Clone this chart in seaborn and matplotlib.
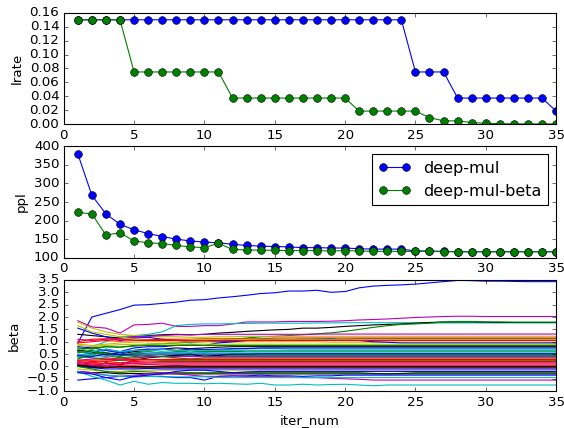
import pandas as pd
import matplotlib
matplotlib.use("Agg")
import matplotlib.pyplot as plt
import seaborn as sns

iter_num = list(range(1, 36))

lrate_deep_mul = [0.15, 0.15, 0.15, 0.15, 0.15, 0.15, 0.15, 0.15, 0.15, 0.15,
                  0.15, 0.15, 0.15, 0.15, 0.15, 0.15, 0.15, 0.15, 0.15, 0.15,
                  0.15, 0.15, 0.15, 0.15, 0.075, 0.075, 0.075, 0.0375, 0.0375, 0.0375,
                  0.0375, 0.0375, 0.0375, 0.0375, 0.01875]
lrate_deep_mul_beta = [0.15, 0.15, 0.15, 0.15, 0.075, 0.075, 0.075, 0.075, 0.075, 0.075,
                       0.075, 0.0375, 0.0375, 0.0375, 0.0375, 0.0375, 0.0375, 0.0375, 0.0375, 0.0375,
                       0.01875, 0.01875, 0.01875, 0.01875, 0.01875, 0.0094, 0.0047, 0.0047, 0.0023, 0.0012,
                       0.0006, 0.0003, 0.0003, 0.0003, 0.0003]

ppl_deep_mul = [380, 268, 218, 190, 175, 165, 157, 150, 145, 142,
                140, 136, 133, 131, 130, 129, 127, 127, 126, 126,
                124, 123, 123, 123, 118, 118, 117, 116, 116, 116,
                116, 116, 116, 116, 116]
ppl_deep_mul_beta = [222, 218, 161, 167, 145, 140, 138, 133, 129, 127,
                     139, 122, 121, 120, 120, 119, 119, 119, 118, 119,
                     118, 117, 117, 117, 117, 117, 116, 116, 116, 116,
                     116, 116, 116, 116, 116]

# beta trajectories, one list per learned weight
beta_runs = [
    [0.95, 2.00, 2.15, 2.30, 2.48, 2.50, 2.55, 2.60, 2.68, 2.70, 2.77, 2.82, 2.88, 2.95, 2.98, 3.05, 3.05, 3.08,
     3.00, 3.03, 3.18, 3.25, 3.28, 3.30, 3.33, 3.38, 3.43, 3.48, 3.47, 3.45, 3.45, 3.44, 3.43, 3.43, 3.43],
    [1.85, 1.60, 1.55, 1.35, 1.68, 1.70, 1.75, 1.62, 1.62, 1.65, 1.65, 1.72, 1.80, 1.80, 1.80, 1.82, 1.82, 1.82,
     1.83, 1.85, 1.88, 1.90, 1.92, 1.95, 1.98, 2.00, 2.02, 2.03, 2.03, 2.02, 2.02, 2.02, 2.02, 2.02, 2.02],
    [0.60, 0.80, 1.00, 1.20, 1.25, 1.30, 1.40, 1.65, 1.70, 1.72, 1.72, 1.73, 1.74, 1.75, 1.75, 1.75, 1.75, 1.76,
     1.76, 1.77, 1.77, 1.77, 1.77, 1.77, 1.77, 1.76, 1.76, 1.76, 1.76, 1.76, 1.76, 1.76, 1.76, 1.76, 1.76],
    [1.30, 1.25, 1.20, 1.15, 1.20, 1.25, 1.28, 1.30, 1.28, 1.30, 1.35, 1.38, 1.42, 1.45, 1.48, 1.50, 1.55, 1.55,
     1.58, 1.62, 1.65, 1.68, 1.70, 1.72, 1.75, 1.78, 1.80, 1.80, 1.80, 1.79, 1.78, 1.78, 1.78, 1.78, 1.78],
    [0.70, 0.75, 0.80, 0.78, 0.85, 0.90, 0.92, 0.95, 0.98, 1.00, 1.05, 1.10, 1.15, 1.20, 1.22, 1.25, 1.28, 1.32,
     1.36, 1.42, 1.50, 1.58, 1.65, 1.70, 1.72, 1.75, 1.80, 1.82, 1.82, 1.80, 1.80, 1.79, 1.79, 1.79, 1.79],
    [1.80, 1.55, 1.40, 1.30, 1.25, 1.22, 1.20, 1.20, 1.18, 1.18, 1.20, 1.20, 1.22, 1.22, 1.22, 1.22, 1.22, 1.22,
     1.22, 1.22, 1.22, 1.22, 1.22, 1.22, 1.22, 1.22, 1.22, 1.22, 1.22, 1.22, 1.22, 1.22, 1.22, 1.22, 1.22],
    [1.55, 1.35, 1.20, 1.05, 1.15, 1.18, 1.10, 1.05, 1.00, 1.02, 1.00, 1.02, 1.05, 1.05, 1.08, 1.08, 1.10, 1.10,
     1.08, 1.10, 1.12, 1.12, 1.12, 1.12, 1.12, 1.12, 1.12, 1.12, 1.12, 1.12, 1.12, 1.12, 1.12, 1.12, 1.12],
    [1.10, 1.05, 1.10, 1.15, 1.20, 1.22, 1.25, 1.28, 1.28, 1.30, 1.30, 1.30, 1.30, 1.30, 1.30, 1.30, 1.30, 1.31,
     1.31, 1.31, 1.31, 1.31, 1.31, 1.31, 1.31, 1.31, 1.31, 1.31, 1.31, 1.31, 1.31, 1.31, 1.31, 1.31, 1.31],
    [1.00, 1.10, 1.12, 1.10, 1.10, 1.08, 1.10, 1.10, 1.10, 1.12, 1.12, 1.12, 1.12, 1.12, 1.15, 1.15, 1.15, 1.15,
     1.15, 1.15, 1.15, 1.15, 1.15, 1.15, 1.15, 1.15, 1.15, 1.15, 1.15, 1.15, 1.15, 1.15, 1.15, 1.15, 1.15],
    [0.90, 0.85, 0.90, 0.95, 0.98, 1.00, 1.00, 0.98, 1.00, 1.00, 0.98, 0.98, 1.00, 1.00, 1.00, 1.00, 1.00, 1.00,
     0.98, 0.98, 0.98, 0.98, 0.98, 0.98, 0.98, 0.98, 0.98, 0.98, 0.98, 0.98, 0.98, 0.98, 0.98, 0.98, 0.98],
    [0.45, 0.55, 0.70, 0.60, 0.75, 0.80, 0.80, 0.85, 0.90, 0.85, 0.95, 1.00, 1.05, 1.10, 1.10, 1.05, 1.08, 1.10,
     1.12, 1.08, 1.05, 1.00, 0.98, 0.95, 0.95, 0.95, 0.95, 0.95, 0.95, 0.95, 0.95, 0.95, 0.95, 0.95, 0.95],
    [0.65, 0.60, 0.55, 0.50, 0.60, 0.65, 0.70, 0.75, 0.72, 0.75, 0.78, 0.80, 0.80, 0.80, 0.80, 0.80, 0.80, 0.80,
     0.80, 0.80, 0.80, 0.80, 0.80, 0.80, 0.80, 0.80, 0.80, 0.80, 0.80, 0.80, 0.80, 0.80, 0.80, 0.80, 0.80],
    [0.35, 0.45, 0.65, 0.55, 0.65, 0.70, 0.60, 0.55, 0.65, 0.55, 0.65, 0.70, 0.72, 0.72, 0.72, 0.70, 0.70, 0.70,
     0.70, 0.70, 0.70, 0.70, 0.70, 0.70, 0.70, 0.70, 0.70, 0.70, 0.70, 0.70, 0.70, 0.70, 0.70, 0.70, 0.70],
    [0.80, 0.75, 0.65, 0.55, 0.65, 0.70, 0.70, 0.65, 0.70, 0.68, 0.70, 0.72, 0.72, 0.75, 0.75, 0.75, 0.75, 0.75,
     0.75, 0.75, 0.75, 0.75, 0.75, 0.75, 0.75, 0.75, 0.75, 0.75, 0.75, 0.75, 0.75, 0.75, 0.75, 0.75, 0.75],
    [0.55, 0.65, 0.50, 0.40, 0.55, 0.60, 0.55, 0.60, 0.58, 0.60, 0.60, 0.60, 0.62, 0.62, 0.62, 0.62, 0.62, 0.62,
     0.62, 0.62, 0.62, 0.62, 0.62, 0.62, 0.62, 0.62, 0.62, 0.62, 0.62, 0.62, 0.62, 0.62, 0.62, 0.62, 0.62],
    [0.30, 0.50, 0.55, 0.45, 0.45, 0.40, 0.42, 0.45, 0.45, 0.45, 0.45, 0.45, 0.45, 0.45, 0.45, 0.45, 0.45, 0.45,
     0.45, 0.45, 0.45, 0.45, 0.45, 0.45, 0.45, 0.45, 0.45, 0.45, 0.45, 0.45, 0.45, 0.45, 0.45, 0.45, 0.45],
    [0.10, 0.00, 0.15, 0.05, 0.25, 0.35, 0.40, 0.45, 0.50, 0.40, 0.45, 0.50, 0.50, 0.52, 0.52, 0.52, 0.52, 0.52,
     0.52, 0.52, 0.52, 0.52, 0.52, 0.52, 0.52, 0.52, 0.52, 0.52, 0.52, 0.52, 0.52, 0.52, 0.52, 0.52, 0.52],
    [0.50, 0.45, 0.40, 0.50, 0.50, 0.55, 0.55, 0.55, 0.55, 0.55, 0.55, 0.55, 0.55, 0.55, 0.55, 0.55, 0.55, 0.55,
     0.55, 0.55, 0.55, 0.55, 0.55, 0.55, 0.55, 0.55, 0.55, 0.55, 0.55, 0.55, 0.55, 0.55, 0.55, 0.55, 0.55],
    [0.25, 0.30, 0.35, 0.30, 0.35, 0.38, 0.40, 0.40, 0.40, 0.40, 0.40, 0.40, 0.40, 0.40, 0.40, 0.40, 0.40, 0.40,
     0.40, 0.40, 0.40, 0.40, 0.40, 0.40, 0.40, 0.40, 0.40, 0.40, 0.40, 0.40, 0.40, 0.40, 0.40, 0.40, 0.40],
    [0.15, 0.20, 0.22, 0.25, 0.25, 0.28, 0.28, 0.30, 0.30, 0.30, 0.30, 0.30, 0.30, 0.30, 0.30, 0.30, 0.30, 0.30,
     0.30, 0.30, 0.30, 0.30, 0.30, 0.30, 0.30, 0.30, 0.30, 0.30, 0.30, 0.30, 0.30, 0.30, 0.30, 0.30, 0.30],
    [0.40, 0.35, 0.30, 0.25, 0.30, 0.28, 0.25, 0.25, 0.25, 0.25, 0.25, 0.25, 0.25, 0.25, 0.25, 0.25, 0.25, 0.25,
     0.25, 0.25, 0.25, 0.25, 0.25, 0.25, 0.25, 0.25, 0.25, 0.25, 0.25, 0.25, 0.25, 0.25, 0.25, 0.25, 0.25],
    [0.05, 0.10, 0.12, 0.10, 0.15, 0.15, 0.15, 0.15, 0.15, 0.15, 0.15, 0.15, 0.15, 0.15, 0.15, 0.15, 0.15, 0.15,
     0.15, 0.15, 0.15, 0.15, 0.15, 0.15, 0.15, 0.15, 0.15, 0.15, 0.15, 0.15, 0.15, 0.15, 0.15, 0.15, 0.15],
    [0.00, 0.02, 0.05, 0.05, 0.05, 0.08, 0.05, 0.05, 0.05, 0.05, 0.05, 0.05, 0.05, 0.05, 0.05, 0.05, 0.05, 0.05,
     0.05, 0.05, 0.05, 0.05, 0.05, 0.05, 0.05, 0.05, 0.05, 0.05, 0.05, 0.05, 0.05, 0.05, 0.05, 0.05, 0.05],
    [0.00, -0.05, 0.00, -0.05, 0.00, 0.00, 0.00, 0.02, 0.00, 0.00, 0.00, 0.00, 0.00, 0.00, 0.00, 0.00, 0.00, 0.00,
     0.00, 0.00, 0.00, 0.00, 0.00, 0.00, 0.00, 0.00, 0.00, 0.00, 0.00, 0.00, 0.00, 0.00, 0.00, 0.00, 0.00],
    [0.10, 0.05, 0.00, -0.05, -0.05, -0.05, -0.05, -0.05, -0.05, -0.05, -0.05, -0.05, -0.05, -0.05, -0.05, -0.05,
     -0.05, -0.05, -0.05, -0.05, -0.05, -0.05, -0.05, -0.05, -0.05, -0.05, -0.05, -0.05, -0.05, -0.05, -0.05,
     -0.05, -0.05, -0.05, -0.05],
    [-0.10, -0.15, -0.20, -0.20, -0.15, -0.15, -0.15, -0.15, -0.15, -0.15, -0.15, -0.15, -0.15, -0.15, -0.15,
     -0.15, -0.15, -0.15, -0.15, -0.15, -0.15, -0.15, -0.15, -0.15, -0.15, -0.15, -0.15, -0.15, -0.15, -0.15,
     -0.15, -0.15, -0.15, -0.15, -0.15],
    [0.05, -0.05, -0.10, -0.10, -0.10, -0.08, -0.10, -0.10, -0.10, -0.10, -0.10, -0.10, -0.10, -0.10, -0.10,
     -0.10, -0.10, -0.10, -0.10, -0.10, -0.10, -0.10, -0.10, -0.10, -0.10, -0.10, -0.10, -0.10, -0.10, -0.10,
     -0.10, -0.10, -0.10, -0.10, -0.10],
    [0.00, -0.10, -0.20, -0.25, -0.20, -0.22, -0.25, -0.25, -0.25, -0.25, -0.25, -0.25, -0.25, -0.25, -0.25,
     -0.25, -0.25, -0.25, -0.25, -0.25, -0.25, -0.28, -0.30, -0.28, -0.25, -0.25, -0.25, -0.25, -0.25, -0.25,
     -0.25, -0.25, -0.25, -0.25, -0.25],
    [-0.20, -0.25, -0.25, -0.30, -0.28, -0.30, -0.30, -0.30, -0.30, -0.30, -0.30, -0.30, -0.30, -0.30, -0.30,
     -0.30, -0.30, -0.30, -0.30, -0.30, -0.30, -0.30, -0.30, -0.30, -0.30, -0.30, -0.30, -0.30, -0.30, -0.30,
     -0.30, -0.30, -0.30, -0.30, -0.30],
    [-0.55, -0.50, -0.45, -0.40, -0.42, -0.40, -0.40, -0.45, -0.45, -0.55, -0.40, -0.38, -0.38, -0.35, -0.38,
     -0.38, -0.40, -0.38, -0.38, -0.35, -0.35, -0.35, -0.35, -0.35, -0.35, -0.35, -0.35, -0.35, -0.35, -0.35,
     -0.35, -0.35, -0.35, -0.35, -0.35],
    [-0.20, -0.25, -0.35, -0.40, -0.35, -0.30, -0.25, -0.30, -0.35, -0.40, -0.40, -0.38, -0.40, -0.40, -0.40,
     -0.42, -0.45, -0.45, -0.48, -0.50, -0.52, -0.55, -0.55, -0.55, -0.55, -0.55, -0.55, -0.55, -0.55, -0.55,
     -0.55, -0.55, -0.55, -0.55, -0.55],
    [-0.20, -0.40, -0.55, -0.75, -0.60, -0.72, -0.65, -0.68, -0.68, -0.70, -0.68, -0.70, -0.72, -0.68, -0.75,
     -0.75, -0.72, -0.75, -0.73, -0.72, -0.75, -0.78, -0.75, -0.75, -0.75, -0.75, -0.75, -0.75, -0.75, -0.75,
     -0.75, -0.75, -0.75, -0.75, -0.75],
    [-0.25, -0.30, -0.35, -0.40, -0.38, -0.40, -0.42, -0.42, -0.42, -0.42, -0.45, -0.45, -0.45, -0.45, -0.45,
     -0.45, -0.45, -0.45, -0.45, -0.45, -0.45, -0.45, -0.45, -0.45, -0.45, -0.45, -0.45, -0.45, -0.45, -0.45,
     -0.45, -0.45, -0.45, -0.45, -0.45],
    [-0.25, -0.30, -0.45, -0.55, -0.40, -0.35, -0.30, -0.20, -0.15, -0.15, -0.20, -0.25, -0.22, -0.20, -0.20,
     -0.20, -0.20, -0.20, -0.20, -0.20, -0.20, -0.20, -0.20, -0.20, -0.20, -0.20, -0.20, -0.20, -0.20, -0.20,
     -0.20, -0.20, -0.20, -0.20, -0.20],
    [1.65, 1.40, 1.30, 1.20, 1.10, 1.05, 1.05, 1.05, 1.08, 1.10, 1.10, 1.10, 1.10, 1.10, 1.10, 1.10, 1.10, 1.10,
     1.10, 1.10, 1.10, 1.10, 1.10, 1.10, 1.10, 1.10, 1.10, 1.10, 1.10, 1.10, 1.10, 1.10, 1.10, 1.10, 1.10],
    [0.20, 0.15, 0.20, 0.15, 0.20, 0.22, 0.20, 0.20, 0.20, 0.20, 0.20, 0.20, 0.20, 0.20, 0.20, 0.20, 0.20, 0.20,
     0.20, 0.20, 0.20, 0.20, 0.20, 0.20, 0.20, 0.20, 0.20, 0.20, 0.20, 0.20, 0.20, 0.20, 0.20, 0.20, 0.20],
    [0.60, 0.55, 0.45, 0.35, 0.40, 0.45, 0.40, 0.35, 0.30, 0.35, 0.35, 0.35, 0.35, 0.35, 0.35, 0.35, 0.35, 0.35,
     0.35, 0.35, 0.35, 0.35, 0.35, 0.35, 0.35, 0.35, 0.35, 0.35, 0.35, 0.35, 0.35, 0.35, 0.35, 0.35, 0.35],
    [0.85, 0.80, 0.85, 0.88, 0.90, 0.90, 0.92, 0.90, 0.90, 0.90, 0.90, 0.90, 0.90, 0.90, 0.90, 0.90, 0.90, 0.90,
     0.90, 0.90, 0.90, 0.90, 0.90, 0.90, 0.90, 0.90, 0.90, 0.90, 0.90, 0.90, 0.90, 0.90, 0.90, 0.90, 0.90],
    [0.40, 0.60, 0.70, 0.60, 0.65, 0.65, 0.68, 0.65, 0.65, 0.65, 0.65, 0.65, 0.65, 0.65, 0.65, 0.65, 0.65, 0.65,
     0.65, 0.65, 0.65, 0.65, 0.65, 0.65, 0.65, 0.65, 0.65, 0.65, 0.65, 0.65, 0.65, 0.65, 0.65, 0.65, 0.65],
    [0.15, 0.10, 0.05, 0.10, 0.12, 0.10, 0.10, 0.10, 0.10, 0.10, 0.10, 0.10, 0.10, 0.10, 0.10, 0.10, 0.10, 0.10,
     0.10, 0.10, 0.10, 0.10, 0.10, 0.10, 0.10, 0.10, 0.10, 0.10, 0.10, 0.10, 0.10, 0.10, 0.10, 0.10, 0.10],
    [0.05, 0.00, -0.05, 0.00, -0.02, -0.02, -0.02, -0.02, -0.02, -0.02, -0.02, -0.02, -0.02, -0.02, -0.02,
     -0.02, -0.02, -0.02, -0.02, -0.02, -0.02, -0.02, -0.02, -0.02, -0.02, -0.02, -0.02, -0.02, -0.02, -0.02,
     -0.02, -0.02, -0.02, -0.02, -0.02],
    [0.75, 0.70, 0.80, 0.78, 0.82, 0.85, 0.85, 0.85, 0.85, 0.85, 0.85, 0.85, 0.85, 0.85, 0.85, 0.85, 0.85, 0.85,
     0.85, 0.85, 0.85, 0.85, 0.85, 0.85, 0.85, 0.85, 0.85, 0.85, 0.85, 0.85, 0.85, 0.85, 0.85, 0.85, 0.85],
    [0.95, 1.00, 1.05, 1.02, 1.05, 1.05, 1.05, 1.05, 1.05, 1.05, 1.05, 1.05, 1.05, 1.05, 1.05, 1.05, 1.05, 1.05,
     1.05, 1.05, 1.05, 1.05, 1.05, 1.05, 1.05, 1.05, 1.05, 1.05, 1.05, 1.05, 1.05, 1.05, 1.05, 1.05, 1.05],
    [0.45, 0.40, 0.50, 0.48, 0.50, 0.50, 0.50, 0.50, 0.50, 0.50, 0.50, 0.50, 0.50, 0.50, 0.50, 0.50, 0.50, 0.50,
     0.50, 0.50, 0.50, 0.50, 0.50, 0.50, 0.50, 0.50, 0.50, 0.50, 0.50, 0.50, 0.50, 0.50, 0.50, 0.50, 0.50],
    [0.25, 0.25, 0.28, 0.30, 0.28, 0.28, 0.28, 0.28, 0.28, 0.28, 0.28, 0.28, 0.28, 0.28, 0.28, 0.28, 0.28, 0.28,
     0.28, 0.28, 0.28, 0.28, 0.28, 0.28, 0.28, 0.28, 0.28, 0.28, 0.28, 0.28, 0.28, 0.28, 0.28, 0.28, 0.28],
]
beta_colors = ["b", "m", "c", "k", "g", "y", "b", "m", "r", "y",
               "b", "k", "c", "b", "g", "g", "k", "c", "m", "r",
               "g", "r", "r", "k", "r", "y", "b", "g", "k", "b",
               "m", "c", "c", "b", "y", "r", "g", "y", "c", "m",
               "k", "g", "r", "b", "r"]

plt.style.use("classic")
plt.rcParams["figure.facecolor"] = "white"
plt.rcParams["savefig.facecolor"] = "white"

fig, axes = plt.subplots(3, 1, figsize=(7.05, 5.35), dpi=80)
fig.subplots_adjust(left=0.113, right=0.986, top=0.970, bottom=0.086, hspace=0.2)

mk = dict(marker="o", markersize=7, markeredgecolor="k", markeredgewidth=0.5, linewidth=1)

ax = axes[0]
sns.lineplot(x=iter_num, y=lrate_deep_mul, color="b", ax=ax, legend=False, **mk)
sns.lineplot(x=iter_num, y=lrate_deep_mul_beta, color="g", ax=ax, legend=False, **mk)
ax.set_ylim(0, 0.16)
ax.set_xlim(0, 35)
ax.set_ylabel("lrate")

ax = axes[1]
sns.lineplot(x=iter_num, y=ppl_deep_mul, color="b", ax=ax, label="deep-mul", **mk)
sns.lineplot(x=iter_num, y=ppl_deep_mul_beta, color="g", ax=ax, label="deep-mul-beta", **mk)
ax.set_ylim(100, 400)
ax.set_xlim(0, 35)
ax.set_ylabel("ppl")
ax.legend(loc="upper right", numpoints=2)

ax = axes[2]
beta_df = pd.DataFrame([
    {"iter_num": it, "beta": v, "run": i}
    for i, run in enumerate(beta_runs)
    for it, v in zip(iter_num, run)
])
sns.lineplot(data=beta_df, x="iter_num", y="beta", hue="run",
             palette=beta_colors[:len(beta_runs)], ax=ax, legend=False, linewidth=1)
ax.set_ylim(-1.0, 3.5)
ax.set_xlim(0, 35)
ax.set_ylabel("beta")
ax.set_xlabel("iter_num")

for ax in axes[:2]:
    ax.set_xlabel("")

fig.savefig("out.png", dpi=80)
